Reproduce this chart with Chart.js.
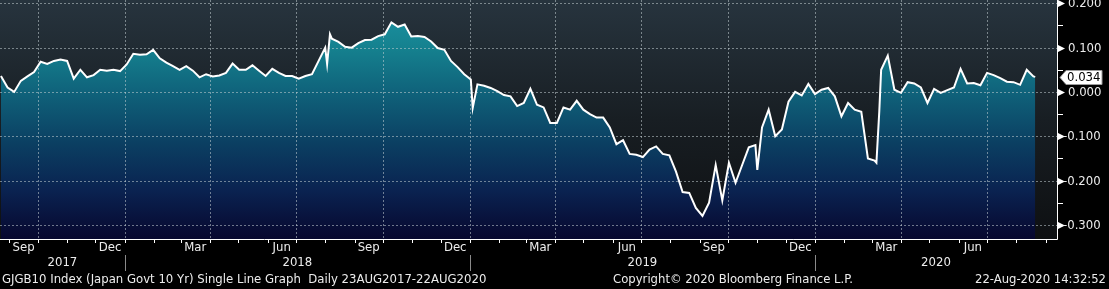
<!DOCTYPE html>
<html>
<head>
<meta charset="utf-8">
<script src="https://cdn.jsdelivr.net/npm/chart.js@4.4.1/dist/chart.umd.min.js"></script>
<style>
  html, body { margin: 0; padding: 0; background: #000; overflow: hidden; }
  canvas { display: block; }
</style>
</head>
<body>
<canvas id="chart" width="1109" height="289"></canvas>
<script>
// --- DATA: GJGB10 (Japan Govt 10 Yr) (weekly, plus a few spike days) ---
const dates = [
  '2017-08-23','2017-08-30','2017-09-06','2017-09-13','2017-09-20','2017-09-27','2017-10-04','2017-10-11',
  '2017-10-18','2017-10-25','2017-11-01','2017-11-08','2017-11-15','2017-11-22','2017-11-29','2017-12-06',
  '2017-12-13','2017-12-20','2017-12-27','2018-01-03','2018-01-10','2018-01-17','2018-01-24','2018-01-31',
  '2018-02-07','2018-02-14','2018-02-21','2018-02-28','2018-03-07','2018-03-14','2018-03-21','2018-03-28',
  '2018-04-04','2018-04-11','2018-04-18','2018-04-25','2018-05-02','2018-05-09','2018-05-16','2018-05-23',
  '2018-05-30','2018-06-06','2018-06-13','2018-06-20','2018-06-27','2018-07-04','2018-07-11','2018-07-18',
  '2018-07-25','2018-08-01','2018-08-03','2018-08-06','2018-08-08','2018-08-15','2018-08-22','2018-08-29',
  '2018-09-05','2018-09-12','2018-09-19','2018-09-26','2018-10-03','2018-10-10','2018-10-17','2018-10-24',
  '2018-10-31','2018-11-07','2018-11-14','2018-11-21','2018-11-28','2018-12-05','2018-12-12','2018-12-19',
  '2018-12-26','2019-01-02','2019-01-04','2019-01-09','2019-01-16','2019-01-23','2019-01-30','2019-02-06',
  '2019-02-13','2019-02-20','2019-02-27','2019-03-06','2019-03-13','2019-03-20','2019-03-27','2019-04-03',
  '2019-04-10','2019-04-17','2019-04-24','2019-05-01','2019-05-08','2019-05-15','2019-05-22','2019-05-29',
  '2019-06-05','2019-06-12','2019-06-19','2019-06-26','2019-07-03','2019-07-10','2019-07-17','2019-07-24',
  '2019-07-31','2019-08-07','2019-08-14','2019-08-21','2019-08-28','2019-09-04','2019-09-11','2019-09-18',
  '2019-09-25','2019-10-02','2019-10-09','2019-10-16','2019-10-23','2019-10-30','2019-11-01','2019-11-06',
  '2019-11-13','2019-11-20','2019-11-27','2019-12-04','2019-12-11','2019-12-18','2019-12-25','2020-01-01',
  '2020-01-08','2020-01-15','2020-01-22','2020-01-29','2020-02-05','2020-02-12','2020-02-19','2020-02-26',
  '2020-03-04','2020-03-06','2020-03-09','2020-03-11','2020-03-18','2020-03-25','2020-04-01','2020-04-08',
  '2020-04-15','2020-04-22','2020-04-29','2020-05-06','2020-05-13','2020-05-20','2020-05-27','2020-06-03',
  '2020-06-10','2020-06-17','2020-06-24','2020-07-01','2020-07-08','2020-07-15','2020-07-22','2020-07-29',
  '2020-08-05','2020-08-12','2020-08-19','2020-08-21'
];
const yields = [
  0.036, 0.010, 0.000, 0.025, 0.035, 0.045, 0.068, 0.063,
  0.070, 0.073, 0.070, 0.030, 0.050, 0.033, 0.038, 0.050,
  0.048, 0.050, 0.047, 0.062, 0.086, 0.084, 0.085, 0.095,
  0.076, 0.066, 0.058, 0.050, 0.058, 0.048, 0.033, 0.040,
  0.035, 0.037, 0.043, 0.064, 0.050, 0.050, 0.060, 0.048,
  0.036, 0.052, 0.043, 0.036, 0.036, 0.030, 0.036, 0.040,
  0.070, 0.100, 0.063, 0.130, 0.120, 0.113, 0.102, 0.100,
  0.110, 0.117, 0.118, 0.126, 0.130, 0.157, 0.147, 0.152,
  0.125, 0.126, 0.124, 0.114, 0.099, 0.095, 0.070, 0.056,
  0.040, 0.028, -0.036, 0.017, 0.014, 0.009, 0.002, -0.007,
  -0.010, -0.032, -0.025, 0.007, -0.029, -0.035, -0.070, -0.070,
  -0.035, -0.040, -0.020, -0.040, -0.050, -0.058, -0.058, -0.080,
  -0.118, -0.109, -0.140, -0.142, -0.147, -0.130, -0.123, -0.140,
  -0.143, -0.180, -0.226, -0.228, -0.262, -0.280, -0.250, -0.165,
  -0.245, -0.160, -0.205, -0.165, -0.125, -0.120, -0.176, -0.080,
  -0.040, -0.100, -0.085, -0.022, 0.000, -0.008, 0.018, -0.005,
  0.005, 0.009, -0.010, -0.055, -0.025, -0.040, -0.045, -0.150,
  -0.155, -0.160, -0.045, 0.050, 0.082, 0.005, -0.002, 0.022,
  0.019, 0.010, -0.025, 0.007, -0.002, 0.004, 0.010, 0.052,
  0.019, 0.020, 0.015, 0.043, 0.038, 0.031, 0.023, 0.022,
  0.016, 0.050, 0.035, 0.034
];
const yTicks = [0.2, 0.1, 0, -0.1, -0.2, -0.3];
const yMinorTicks = [0.15, 0.05, -0.05, -0.15, -0.25];
const monthNames = ['Jan','Feb','Mar','Apr','May','Jun','Jul','Aug','Sep','Oct','Nov','Dec'];
const labelledMonths = ['Sep', 'Dec', 'Mar', 'Jun'];
const years = [2017, 2018, 2019, 2020];
const lastLabel = '0.034';
const footerLeft = 'GJGB10 Index (Japan Govt 10 Yr) Single Line Graph  Daily 23AUG2017-22AUG2020';
const footerMid = 'Copyright\u00A9 2020 Bloomberg Finance L.P.';
const footerRight = '22-Aug-2020 14:32:52';

// days since the first date
const T0 = Date.UTC(2017, 7, 23);
const dayOf = (y, m, d) => (Date.UTC(y, m, d) - T0) / 864e5;
const dayStr = s => { const p = s.split('-').map(Number); return dayOf(p[0], p[1] - 1, p[2]); };
const points = dates.map((s, i) => ({ x: dayStr(s), y: yields[i] }));

const X_MIN = -1, X_MAX = 1117;
const FONT = '13px "DejaVu Sans Condensed", "DejaVu Sans", sans-serif';
const TEXT = '#ececec';

// all month starts on the axis (Sep 2017 .. Sep 2020)
function monthStarts() {
    const out = [];
    for (let y = 2017, m = 8; y < 2020 || (y === 2020 && m <= 8); m++) {
        if (m > 11) { m = 0; y++; }
        out.push({ y, m, day: dayOf(y, m, 1) });
        if (y === 2020 && m === 8) break;
    }
    return out;
}

const bbgPlugin = {
    id: 'bbg',
    beforeDraw(chart) {
        const { ctx, chartArea: a } = chart;
        ctx.save();
        ctx.fillStyle = '#000';
        ctx.fillRect(0, 0, chart.width, chart.height);
        const g = ctx.createLinearGradient(0, a.top, 0, a.bottom);
        g.addColorStop(0, '#27343e');
        g.addColorStop(0.5, '#181e23');
        g.addColorStop(1, '#0e1012');
        ctx.fillStyle = g;
        ctx.fillRect(a.left, a.top, a.right - a.left, a.bottom - a.top);
        ctx.restore();
    },
    // gridlines go above the fill but under the white line
    beforeDatasetDraw(chart, args) {
        if (args.index !== 0) return;
        const { ctx, chartArea: a, scales } = chart;
        ctx.save();
        ctx.strokeStyle = 'rgba(195,205,210,0.55)';
        ctx.lineWidth = 1;
        ctx.setLineDash([2, 2]);
        yTicks.forEach(v => {
            const y = Math.round(scales.y.getPixelForValue(v)) + 0.5;
            ctx.beginPath(); ctx.moveTo(a.left, y); ctx.lineTo(a.right, y); ctx.stroke();
        });
        monthStarts().forEach(ms => {
            if (ms.m % 3 !== 0) return; // Jan, Apr, Jul, Oct = end of Dec, Mar, Jun, Sep
            const x = Math.round(scales.x.getPixelForValue(ms.day)) + 0.5;
            ctx.beginPath(); ctx.moveTo(x, a.top); ctx.lineTo(x, a.bottom); ctx.stroke();
        });
        ctx.restore();
    },
    afterDraw(chart) {
        const { ctx, chartArea: a, scales } = chart;
        const xs = scales.x, ys = scales.y;
        ctx.save();
        // axis lines
        ctx.strokeStyle = '#ffffff';
        ctx.lineWidth = 1;
        ctx.beginPath();
        ctx.moveTo(a.left, a.bottom + 0.5); ctx.lineTo(a.right + 0.5, a.bottom + 0.5);
        ctx.moveTo(a.right + 0.5, a.top); ctx.lineTo(a.right + 0.5, a.bottom + 0.5);
        ctx.stroke();

        // month ticks and labels
        ctx.font = FONT;
        ctx.fillStyle = TEXT;
        ctx.textBaseline = 'middle';
        ctx.textAlign = 'center';
        const ms = monthStarts();
        ms.forEach((m, i) => {
            const x = Math.round(xs.getPixelForValue(m.day)) + 0.5;
            ctx.beginPath(); ctx.moveTo(x, a.bottom); ctx.lineTo(x, a.bottom + 4); ctx.stroke();
            const next = ms[i + 1];
            if (next && labelledMonths.includes(monthNames[m.m])) {
                const cx = (xs.getPixelForValue(m.day) + xs.getPixelForValue(next.day)) / 2;
                ctx.fillText(monthNames[m.m], cx, 248);
            }
        });

        // years and separators
        ctx.strokeStyle = '#8a8a8a';
        years.forEach(y => {
            const from = Math.max(dayOf(y, 0, 1), X_MIN);
            const to = Math.min(dayOf(y + 1, 0, 1), X_MAX);
            const cx = (xs.getPixelForValue(from) + xs.getPixelForValue(to)) / 2;
            ctx.fillText(String(y), cx, 263);
            if (y > years[0]) {
                const sx = Math.round(xs.getPixelForValue(dayOf(y, 0, 1))) + 0.5;
                ctx.beginPath(); ctx.moveTo(sx, 255); ctx.lineTo(sx, 271); ctx.stroke();
            }
        });

        // right axis
        ctx.strokeStyle = '#ffffff';
        ctx.fillStyle = '#ffffff';
        yMinorTicks.forEach(v => {
            const y = Math.round(ys.getPixelForValue(v)) + 0.5;
            ctx.beginPath(); ctx.moveTo(a.right, y); ctx.lineTo(a.right + 6, y); ctx.stroke();
        });
        ctx.textAlign = 'left';
        yTicks.forEach(v => {
            const y = Math.round(ys.getPixelForValue(v)) + 0.5;
            ctx.fillStyle = '#ffffff';
            ctx.beginPath();
            ctx.moveTo(a.right + 1, y - 3.5); ctx.lineTo(a.right + 8, y); ctx.lineTo(a.right + 1, y + 3.5);
            ctx.closePath(); ctx.fill();
            ctx.fillStyle = TEXT;
            const txt = v.toFixed(3);
            ctx.fillText(txt, v < 0 ? a.right + 6 : a.right + 11, y);
        });

        // last value tag
        const ly = Math.round(ys.getPixelForValue(yields[yields.length - 1])) + 0.5;
        ctx.fillStyle = '#ffffff';
        ctx.strokeStyle = '#9a9a9a';
        ctx.beginPath();
        ctx.moveTo(a.right + 3, ly);
        ctx.lineTo(a.right + 9, ly - 7);
        ctx.lineTo(a.right + 45, ly - 7);
        ctx.lineTo(a.right + 45, ly + 7);
        ctx.lineTo(a.right + 9, ly + 7);
        ctx.closePath();
        ctx.fill(); ctx.stroke();
        ctx.fillStyle = '#000000';
        ctx.fillText(lastLabel, a.right + 10, ly + 0.5, 34);

        // footer
        ctx.fillStyle = TEXT;
        ctx.textAlign = 'left';
        ctx.fillText(footerLeft, 2, 280, 489);
        ctx.fillText(footerMid, 613, 280, 240);
        ctx.textAlign = 'right';
        ctx.fillText(footerRight, 1106, 280, 131);
        ctx.restore();
    }
};

const ctx = document.getElementById('chart').getContext('2d');
new Chart(ctx, {
    type: 'line',
    data: {
        datasets: [
            {
                // white line (index 0 is drawn last)
                data: points,
                borderColor: '#ffffff',
                borderWidth: 2,
                pointRadius: 0,
                fill: false,
                tension: 0
            },
            {
                // gradient area under the line
                data: points,
                borderWidth: 0,
                pointRadius: 0,
                fill: 'start',
                tension: 0,
                backgroundColor: c => {
                    const a = c.chart.chartArea;
                    if (!a) return 'rgba(0,0,0,0)';
                    const g = c.chart.ctx.createLinearGradient(0, a.top, 0, a.bottom);
                    g.addColorStop(0, '#1c97a6');
                    g.addColorStop(0.2, '#15818f');
                    g.addColorStop(0.4, '#0f6079');
                    g.addColorStop(0.6, '#0b3f62');
                    g.addColorStop(0.8, '#0a2250');
                    g.addColorStop(1, '#07072e');
                    return g;
                }
            }
        ]
    },
    options: {
        responsive: false,
        animation: false,
        devicePixelRatio: 1,
        layout: { padding: { left: 0, top: 0, right: 52, bottom: 50 } },
        scales: {
            x: { type: 'linear', min: X_MIN, max: X_MAX, display: false },
            y: { min: -0.332, max: 0.2075, display: false }
        },
        plugins: {
            legend: { display: false },
            tooltip: { enabled: false }
        }
    },
    plugins: [bbgPlugin]
});
</script>
</body>
</html>
